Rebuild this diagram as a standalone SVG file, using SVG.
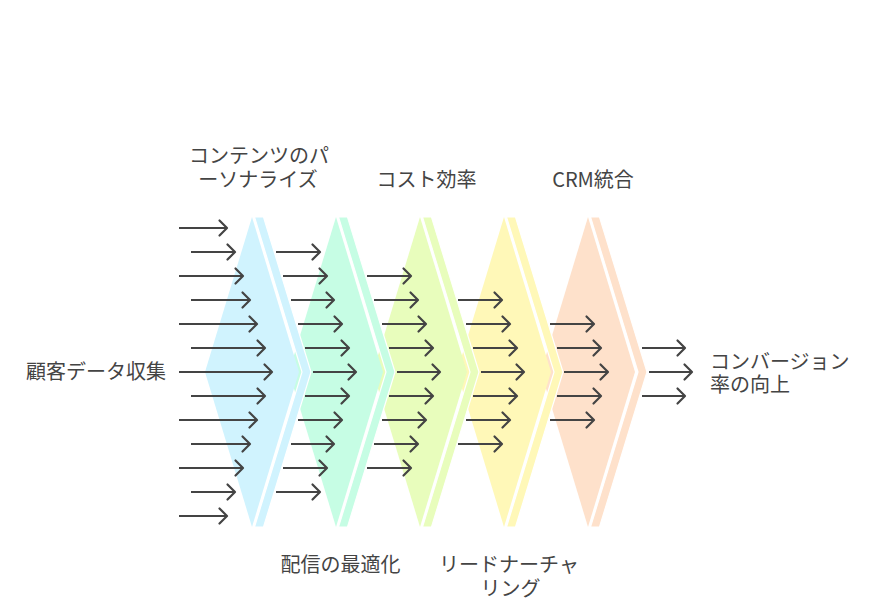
<svg xmlns="http://www.w3.org/2000/svg" width="876" height="606" viewBox="0 0 876 606">
<style>
.t{font-family:"Noto Sans CJK JP","Noto Sans",sans-serif;font-size:20px;fill:#444}
.m{text-anchor:middle}
.c line{stroke:#444;stroke-width:2.2;marker-end:url(#ah)}
.gap{stroke:#fff;stroke-width:1.2}
</style>
<defs>
<marker id="ah" markerUnits="userSpaceOnUse" markerWidth="14" markerHeight="20" refX="10" refY="10" orient="auto" overflow="visible">
<path d="M2.5,2.5 L10,10 L2.5,17.5" fill="none" stroke="#444" stroke-width="2.2" stroke-linecap="round" stroke-linejoin="round"/>
</marker>
</defs>
<rect width="876" height="606" fill="#fff"/>

<g id="stage5">
<polygon points="541,372 588,217 635,372 588,527" fill="#fee1cb"/>
<polygon class="gap" points="590.5,217 599.5,217 647,372 599.5,527 590.5,527 638,372" fill="#fee1cb"/>
</g>
<g id="stage4">
<polygon points="457,372 504,217 551,372 504,527" fill="#fff8b8"/>
<polygon class="gap" points="506.5,217 515.5,217 563,372 515.5,527 506.5,527 554,372" fill="#fff8b8"/>
</g>
<g id="stage3">
<polygon points="373,372 420,217 467,372 420,527" fill="#e8fdbc"/>
<polygon class="gap" points="422.5,217 431.5,217 479,372 431.5,527 422.5,527 470,372" fill="#e8fdbc"/>
</g>
<g id="stage2">
<polygon points="289,372 336,217 383,372 336,527" fill="#c6fde4"/>
<polygon class="gap" points="338.5,217 347.5,217 395,372 347.5,527 338.5,527 386,372" fill="#c6fde4"/>
</g>
<g id="stage1">
<polygon points="205,372 252,217 299,372 252,527" fill="#d0f3fe"/>
<polygon class="gap" points="254.5,217 263.5,217 311,372 263.5,527 254.5,527 302,372" fill="#d0f3fe"/>
</g>

<g id="connectors" class="c">
<line x1="179" y1="228" x2="227" y2="228"/>
<line x1="191" y1="252" x2="235" y2="252"/>
<line x1="179" y1="276" x2="243" y2="276"/>
<line x1="191" y1="300" x2="250" y2="300"/>
<line x1="179" y1="324" x2="257" y2="324"/>
<line x1="191" y1="348" x2="265" y2="348"/>
<line x1="179" y1="372" x2="272" y2="372"/>
<line x1="191" y1="396" x2="265" y2="396"/>
<line x1="179" y1="420" x2="257" y2="420"/>
<line x1="191" y1="444" x2="250" y2="444"/>
<line x1="179" y1="468" x2="243" y2="468"/>
<line x1="191" y1="492" x2="235" y2="492"/>
<line x1="179" y1="516" x2="227" y2="516"/>

<line x1="276" y1="252" x2="320" y2="252"/>
<line x1="283" y1="276" x2="327" y2="276"/>
<line x1="291" y1="300" x2="334" y2="300"/>
<line x1="298" y1="324" x2="342" y2="324"/>
<line x1="305" y1="348" x2="349" y2="348"/>
<line x1="313" y1="372" x2="356" y2="372"/>
<line x1="305" y1="396" x2="349" y2="396"/>
<line x1="298" y1="420" x2="342" y2="420"/>
<line x1="291" y1="444" x2="334" y2="444"/>
<line x1="283" y1="468" x2="327" y2="468"/>
<line x1="276" y1="492" x2="320" y2="492"/>

<line x1="367" y1="276" x2="411" y2="276"/>
<line x1="374" y1="300" x2="418" y2="300"/>
<line x1="382" y1="324" x2="426" y2="324"/>
<line x1="389" y1="348" x2="433" y2="348"/>
<line x1="397" y1="372" x2="440" y2="372"/>
<line x1="389" y1="396" x2="433" y2="396"/>
<line x1="382" y1="420" x2="426" y2="420"/>
<line x1="374" y1="444" x2="418" y2="444"/>
<line x1="367" y1="468" x2="411" y2="468"/>

<line x1="458" y1="300" x2="502" y2="300"/>
<line x1="466" y1="324" x2="510" y2="324"/>
<line x1="473" y1="348" x2="517" y2="348"/>
<line x1="481" y1="372" x2="524" y2="372"/>
<line x1="473" y1="396" x2="517" y2="396"/>
<line x1="466" y1="420" x2="510" y2="420"/>
<line x1="458" y1="444" x2="502" y2="444"/>

<line x1="550" y1="324" x2="594" y2="324"/>
<line x1="557" y1="348" x2="601" y2="348"/>
<line x1="564" y1="372" x2="608" y2="372"/>
<line x1="557" y1="396" x2="601" y2="396"/>
<line x1="550" y1="420" x2="594" y2="420"/>

<line x1="642" y1="348" x2="685" y2="348"/>
<line x1="649" y1="372" x2="692" y2="372"/>
<line x1="642" y1="396" x2="685" y2="396"/>
</g>

<g id="labels">
<text class="t m" x="96" y="379">顧客データ収集</text>
<text class="t m" x="259" y="163">コンテンツのパ</text>
<text class="t m" x="258" y="186.5">ーソナライズ</text>
<text class="t m" x="426.5" y="186.5">コスト効率</text>
<text class="t m" x="593" y="186.5">CRM統合</text>
<text class="t m" x="340.5" y="571.5">配信の最適化</text>
<text class="t m" x="509" y="571.5">リードナーチャ</text>
<text class="t m" x="510.5" y="595.5">リング</text>
<text class="t" x="710" y="369">コンバージョン</text>
<text class="t" x="710" y="391.5">率の向上</text>
</g>
</svg>
